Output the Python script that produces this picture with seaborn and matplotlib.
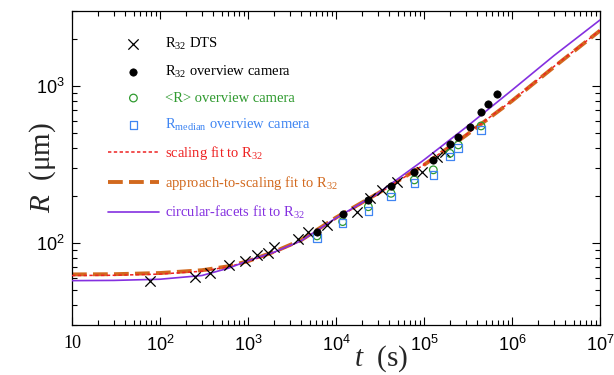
import numpy as np
import pandas as pd
import seaborn as sns
import matplotlib.pyplot as plt
from matplotlib.ticker import FixedLocator, LogLocator, NullFormatter

# R32 from DTS
dts_t = [77, 250, 370, 610, 925, 1250, 1700, 1970, 3730, 4840, 7830,
         17200, 24300, 33000, 49000, 94200, 139000, 174000]
dts_R = [57.3, 61, 64, 72.4, 77, 84, 86, 94.7, 105.6, 118, 130,
         158, 193, 217, 245, 284, 355, 380]

# R32 from overview camera
cam_t = [6080, 11900, 23300, 42200, 77600, 127600, 197000, 245000,
         334000, 445000, 534000, 676000]
cam_R32 = [117, 153, 188, 231, 284, 338, 428, 476, 550, 686, 764, 889]

# <R> and R_median from overview camera
stat_t = [6080, 11900, 23300, 42200, 77600, 127600, 197000, 245000, 445000]
cam_Rmean = [110.8, 136.7, 170, 207, 252, 292, 372, 421, 556]
cam_Rmedian = [107, 133.5, 160, 197, 240, 271, 355, 401, 525]

# fit curves
fit_t = [10, 30, 100, 300, 600, 1000, 2000, 4000, 1e4, 3e4, 1e5, 3e5, 1e6, 3e6, 1e7]
fit_scaling = [62, 62.2, 63.3, 66, 70.5, 76, 87, 103, 143, 205, 315, 488, 805, 1330, 2260]
fit_approach = [63, 63.2, 64.3, 67, 71, 76.5, 88, 104, 145, 207, 314, 484, 802, 1320, 2250]
fit_circular = [57.5, 57.7, 58.7, 62, 69, 77, 87.5, 103, 144, 207, 338, 545, 940, 1560, 2630]

xtick_vals = [10, 1e2, 1e3, 1e4, 1e5, 1e6, 1e7]
xtick_labels = ['10', r'$\mathsf{10^{2}}$', r'$\mathsf{10^{3}}$', r'$\mathsf{10^{4}}$',
                r'$\mathsf{10^{5}}$', r'$\mathsf{10^{6}}$', r'$\mathsf{10^{7}}$']
ytick_vals = [1e2, 1e3]
ytick_labels = [r'$\mathsf{10^{2}}$', r'$\mathsf{10^{3}}$']

sns.set_style('ticks')
plt.rcParams['font.family'] = ['Liberation Serif', 'DejaVu Serif']
plt.rcParams['mathtext.fontset'] = 'custom'
plt.rcParams['mathtext.rm'] = 'Liberation Serif'
plt.rcParams['mathtext.it'] = 'Liberation Serif:italic'
plt.rcParams['mathtext.sf'] = 'Liberation Sans'

green = '#2f9a2f'
blue = '#3f85f2'
red = '#ee2222'
orange = '#d2691e'
purple = '#8430e0'

fig = plt.figure(figsize=(6.14, 3.75), dpi=100)
ax = fig.add_axes([72 / 614, 50 / 375, 528 / 614, 314 / 375])

sns.scatterplot(x=dts_t, y=dts_R, marker='x', s=55, color='k', linewidth=0.9,
                label=r'$\mathrm{R}_{32}$ DTS', ax=ax, zorder=4)
sns.scatterplot(x=cam_t, y=cam_R32, marker='o', s=28, color='k', edgecolor='k',
                linewidth=0.5, label=r'$\mathrm{R}_{32}$ overview camera', ax=ax, zorder=5)
sns.scatterplot(x=stat_t, y=cam_Rmean, marker='o', s=30, color=green, facecolor='none',
                edgecolor=green, linewidth=0.9, label='<R> overview camera', ax=ax, zorder=4)
sns.scatterplot(x=stat_t, y=cam_Rmedian, marker='s', s=30, color=blue, facecolor='none',
                edgecolor=blue, linewidth=0.9, label=r'R$_{\mathrm{median}}$ overview camera',
                ax=ax, zorder=4)
sns.lineplot(x=fit_t, y=fit_scaling, color=red, linewidth=1.1, dashes=(2.2, 1.6),
             label=r'scaling fit to R$_{32}$', ax=ax, zorder=3)
sns.lineplot(x=fit_t, y=fit_approach, color=orange, linewidth=2.8, dashes=(3.8, 1.6),
             label=r'approach-to-scaling fit to R$_{32}$', ax=ax, zorder=2)
sns.lineplot(x=fit_t, y=fit_circular, color=purple, linewidth=1.2,
             label=r'circular-facets fit to R$_{32}$', ax=ax, zorder=3)

ax.set_xscale('log')
ax.set_yscale('log')
ax.set_xlim(10, 1e7)
ax.set_ylim(30, 3000)

ax.xaxis.set_major_locator(FixedLocator(xtick_vals))
ax.set_xticklabels(xtick_labels, fontsize=13)
ax.yaxis.set_major_locator(FixedLocator(ytick_vals))
ax.set_yticklabels(ytick_labels, fontsize=13)
ax.xaxis.set_minor_locator(LogLocator(base=10, subs=np.arange(2, 10), numticks=20))
ax.yaxis.set_minor_locator(LogLocator(base=10, subs=np.arange(2, 10), numticks=20))
ax.xaxis.set_minor_formatter(NullFormatter())
ax.yaxis.set_minor_formatter(NullFormatter())
ax.tick_params(which='both', direction='in', top=True, right=True, width=0.8, colors='k')
ax.tick_params(which='major', length=6, pad=5)
ax.tick_params(axis='x', which='major', pad=7)
ax.tick_params(which='minor', length=3.5)
for sp in ax.spines.values():
    sp.set_linewidth(0.9)
    sp.set_color('k')

ax.set_xlabel(r'$t$  (s)', fontsize=21)
ax.xaxis.set_label_coords(0.585, -0.058)
ax.set_ylabel(r'$R$  ($\mathrm{\mu}$m)', fontsize=21)
ax.yaxis.set_label_coords(-0.027, 0.5)

leg_colors = ['k', 'k', green, blue, red, orange, purple]
ax.legend(loc='upper left', bbox_to_anchor=(0.068, 0.92), frameon=False, fontsize=10.5,
          handlelength=3.5, handletextpad=0.4, labelspacing=0.8, borderpad=0,
          borderaxespad=0, labelcolor=leg_colors)

fig.savefig('out.png', dpi=100)
